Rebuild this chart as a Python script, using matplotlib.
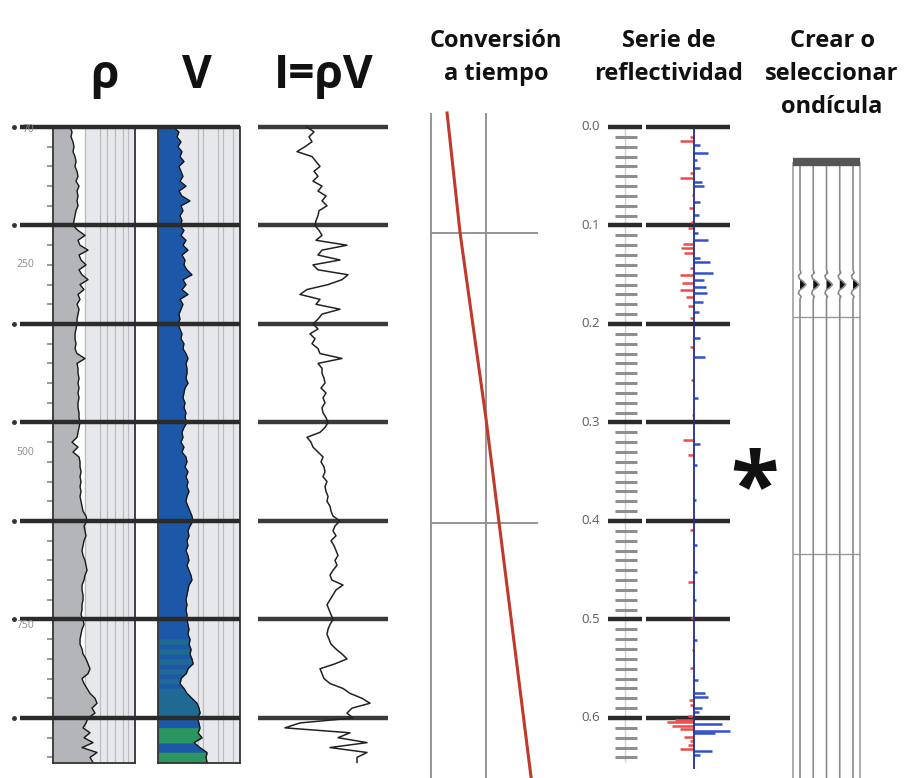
import numpy as np
import matplotlib
matplotlib.use("Agg")
import matplotlib.pyplot as plt

plt.rcParams['font.family'] = ['Open Sans', 'DejaVu Sans']

W, H = 914, 778
T0_PX, PX_PER_S = 127, 985.0   # vertical layout: time 0.0 s at pixel row 127

# ---------------- data ----------------
# log samples every 5 ms (two-way time, s)
t_log = np.arange(130) * 0.005

rho = [2.12, 2.14, 2.13, 2.15, 2.16, 2.15, 2.17, 2.18, 2.17, 2.19,
       2.20, 2.18, 2.21, 2.19, 2.20, 2.19, 2.20, 2.18, 2.17, 2.16,
       2.15, 2.20, 2.27, 2.20, 2.22, 2.30, 2.21, 2.23, 2.28, 2.21,
       2.24, 2.30, 2.22, 2.26, 2.20, 2.22, 2.19, 2.21, 2.20, 2.19,
       2.19, 2.18, 2.17, 2.17, 2.18, 2.17, 2.19, 2.27, 2.19, 2.20,
       2.20, 2.21, 2.20, 2.21, 2.20, 2.21, 2.20, 2.20, 2.21, 2.21,
       2.22, 2.21, 2.20, 2.19, 2.14, 2.20, 2.15, 2.21, 2.22, 2.22,
       2.23, 2.22, 2.23, 2.22, 2.23, 2.22, 2.23, 2.24, 2.25, 2.28,
       2.29, 2.26, 2.27, 2.28, 2.26, 2.25, 2.24, 2.25, 2.27, 2.28,
       2.29, 2.27, 2.26, 2.24, 2.24, 2.25, 2.25, 2.24, 2.24, 2.23,
       2.25, 2.26, 2.24, 2.23, 2.22, 2.22, 2.24, 2.25, 2.28, 2.30,
       2.32, 2.30, 2.24, 2.26, 2.29, 2.32, 2.37, 2.39, 2.34, 2.37,
       2.30, 2.28, 2.25, 2.32, 2.26, 2.35, 2.24, 2.39, 2.32, 2.35]

vel = [2250, 2550, 2450, 2650, 2500, 2700, 2600, 2800, 2550, 2650,
       2750, 2600, 2900, 2550, 2700, 3100, 2650, 2750, 2600, 2700,
       2600, 2800, 2650, 2900, 2750, 3000, 2700, 2850, 2800, 2950,
       3200, 2750, 2900, 2700, 3000, 2600, 2750, 2650, 2550, 2600,
       2500, 2600, 2700, 2650, 2800, 2750, 2900, 3000, 2900, 2950,
       2950, 2900, 3000, 2850, 2800, 2750, 2850, 2800, 2900, 2850,
       2950, 2800, 2700, 2750, 2650, 2800, 2700, 2900, 2950, 2850,
       3000, 2900, 3000, 2950, 3050, 2950, 2900, 3000, 3100, 3200,
       3250, 3100, 3000, 3050, 2950, 3000, 2900, 3000, 3050, 2950,
       3050, 3150, 3200, 3050, 3000, 2950, 2900, 2950, 2900, 2950,
       2950, 3000, 3050, 3000, 3100, 3050, 3150, 3100, 3200, 3250,
       3000, 2900, 2650, 2600, 2800, 2950, 3200, 3450, 3550, 3600,
       3450, 3550, 3600, 3500, 3700, 3300, 3600, 3950, 3900, 3950]

# b = blue, t = teal, g = green
facies = "b" * 104 + "tbtbtbtbtb" + "tttttt" + "bb" + "ggg" + "bb" + "ggg"

imp = [6900, 7600, 7100, 7400, 6700, 5900, 7400, 7800, 8200, 7600,
       8000, 7500, 8400, 8000, 8800, 8400, 8900, 8100, 8000, 7800,
       7700, 8100, 8400, 7800, 10900, 8400, 8000, 10200, 7500, 8000,
       11000, 10400, 9000, 6900, 6200, 8200, 7800, 10200, 8400, 8000,
       7500, 8000, 7200, 7700, 7400, 8000, 8200, 10400, 8000, 8400,
       8400, 8600, 8700, 8300, 8800, 8500, 8700, 8400, 8500, 8800,
       9000, 8700, 8200, 6900, 7300, 7500, 8000, 8500, 8300, 8600,
       8700, 8500, 8900, 8700, 8800, 9000, 8900, 9200, 9300, 9500,
       10200, 9700, 9500, 9800, 9300, 9600, 9800, 10000, 9700, 9900,
       9500, 9200, 9400, 10500, 9800, 9500, 9200, 8900, 9100, 9300,
       9500, 9200, 9000, 8900, 9100, 9300, 9800, 10400, 10900, 9700,
       8200, 8400, 8600, 9200, 10500, 11200, 12400, 13200, 11400, 10900,
       11500, 6200, 4700, 11200, 10000, 12900, 9200, 12900, 11900, 11900]

time_lines = [0.0, 0.1, 0.2, 0.3, 0.4, 0.5, 0.6]
depth_labels = ["70", "250", "500", "750"]
depth_label_t = [0.003, 0.140, 0.330, 0.506]

# time-depth relation
conv_time = [0.073, 0.132, 0.25, 0.455]
conv_depth = [0, 180, 460, 1000]
conv_grid_time = [0.0, 0.25]
conv_grid_depth = [180, 617]

# reflectivity series
refl_t = [0.010, 0.014, 0.018, 0.026, 0.034, 0.042, 0.047, 0.052, 0.056, 0.060,
          0.069, 0.076, 0.082, 0.089, 0.096, 0.103, 0.108, 0.115, 0.119, 0.123,
          0.128, 0.133, 0.137, 0.143, 0.148, 0.150, 0.155, 0.158, 0.162, 0.165,
          0.169, 0.173, 0.178, 0.182, 0.188, 0.194, 0.214, 0.223, 0.234, 0.257,
          0.275, 0.292, 0.318, 0.322, 0.333, 0.343, 0.379, 0.409, 0.424, 0.452,
          0.462, 0.480, 0.498, 0.521, 0.531, 0.549, 0.561, 0.575, 0.579, 0.582,
          0.587, 0.590, 0.594, 0.598, 0.602, 0.604, 0.606, 0.608, 0.611, 0.613,
          0.615, 0.619, 0.623, 0.627, 0.631, 0.634, 0.638]
refl_r = [-0.02, -0.07, 0.03, 0.07, 0.015, 0.03, -0.02, -0.07, 0.04, 0.05,
          -0.01, 0.03, -0.025, 0.025, -0.015, -0.03, 0.02, 0.07, -0.055, -0.065,
          -0.05, 0.03, 0.08, -0.02, 0.095, -0.07, 0.05, -0.06, 0.06, -0.07,
          0.065, -0.04, 0.045, -0.03, 0.025, -0.02, 0.03, -0.02, 0.055, -0.015,
          0.02, -0.01, -0.055, 0.03, -0.03, 0.015, 0.01, -0.02, 0.015, 0.015,
          -0.03, 0.01, -0.015, 0.015, -0.01, -0.02, 0.02, 0.055, 0.07, -0.025,
          -0.02, 0.04, 0.025, -0.03, -0.095, -0.135, 0.14, -0.11, -0.07, 0.18,
          0.105, -0.05, -0.02, -0.03, -0.07, 0.09, 0.03]

# wavelet
traces = [1, 2, 3, 4, 5]
wave_t0 = 0.160
wave_off = [-0.015, -0.012, -0.009, -0.006, -0.003, 0.0, 0.003, 0.006, 0.009, 0.012, 0.015]
wave_amp = [0.0, 0.08, -0.12, -0.05, 0.25, 0.45, 0.25, -0.05, -0.12, 0.08, 0.0]
wave_lines = [0.193, 0.433]

# ---------------- figure ----------------
fig = plt.figure(figsize=(W / 100, H / 100), dpi=100)


def panel(x0, x1, y0, y1):
    # axes placed by pixel box, y axis in seconds
    ax = fig.add_axes([x0 / W, 1 - y1 / H, (x1 - x0) / W, (y1 - y0) / H])
    ax.set_ylim((y1 - T0_PX) / PX_PER_S, (y0 - T0_PX) / PX_PER_S)
    return ax


def track_style(ax):
    for s in ["left", "right", "bottom"]:
        ax.spines[s].set_color("#333333")
        ax.spines[s].set_linewidth(1.3)
    ax.spines["top"].set_visible(False)
    ax.set_yticks(np.arange(0, 0.645, 0.02))
    ax.tick_params(axis="y", direction="out", length=4, width=1.2,
                   color="#888888", labelleft=False)
    ax.tick_params(axis="x", bottom=False, labelbottom=False)


# density track
ax_rho = panel(53, 135, 127, 763)
ax_rho.set_xlim(1.95, 2.77)
ax_rho.axvspan(2.27, 2.77, color="#e6e8eb", zorder=0)
for g in [2.27, 2.42, 2.49, 2.57, 2.65, 2.70]:
    ax_rho.axvline(g, color="#b9bcc0", lw=0.9, zorder=0.5)
ax_rho.fill_betweenx(t_log, 1.95, rho, color="#b3b5b8", lw=0, zorder=1)
ax_rho.plot(rho, t_log, color="#1a1a1a", lw=1.0, zorder=2)
track_style(ax_rho)

# velocity track
fac_colors = {"b": "#1c57a8", "t": "#1f6a92", "g": "#2b9660"}
ax_v = panel(158, 240, 127, 763)
ax_v.set_xlim(1500, 5600)
ax_v.axvspan(2600, 5600, color="#e6e8eb", zorder=0)
for g in [3500, 3750, 4500, 4750, 5250]:
    ax_v.axvline(g, color="#b9bcc0", lw=0.9, zorder=0.5)
ax_v.fill_betweenx(t_log, 1500, vel, color=fac_colors["b"], lw=0, zorder=1)
for i in range(len(t_log) - 1):
    if facies[i] == "b":
        continue
    c = fac_colors[facies[i]]
    ax_v.fill_betweenx(t_log[i:i + 2], 1500, vel[i:i + 2], color=c,
                       edgecolor=c, lw=0.4, zorder=1.1)
ax_v.plot(vel, t_log, color="#111111", lw=0.9, zorder=2)
track_style(ax_v)
ax_v.tick_params(axis="y", left=False)

# horizons, depth labels over both tracks
ax_f = panel(10, 242, 110, 770)
ax_f.set_xlim(0, 1)
ax_f.patch.set_alpha(0)
ax_f.axis("off")
ax_f.hlines(time_lines, 0.043, 0.991, color="#2b2b2b", lw=3.2)
ax_f.plot([0.017] * len(time_lines), time_lines, "o", color="#333333", ms=2.5)
for lab, t in zip(depth_labels, depth_label_t):
    ax_f.text(0.105, t, lab, ha="right", va="center", fontsize=7.5, color="#8a8a8a")

# impedance
ax_imp = panel(250, 395, 110, 770)
ax_imp.set_xlim(1200, 15700)
ax_imp.axis("off")
ax_imp.hlines(time_lines, 2000, 15000, color="#3a3a3a", lw=3.2)
ax_imp.plot(imp, t_log, color="#222222", lw=1.1)

# time-depth conversion
ax_c = fig.add_axes([420 / W, 0, 125 / W, 678 / H])
ax_c.set_xlim(-0.05, 0.518)
ax_c.set_ylim(1000, -19.5)
ax_c.axis("off")
ax_c.vlines(conv_grid_time, 0, 1000, color="#8c8c8c", lw=1.3)
ax_c.hlines(conv_grid_depth, 0.0, 0.486, color="#8c8c8c", lw=1.3)
ax_c.plot(conv_time, conv_depth, color="#c0392b", lw=2.2)

# reflectivity
ax_r = panel(560, 740, 110, 778)
ax_r.set_xlim(-0.67, 0.23)
ax_r.axis("off")
ytr = ax_r.get_yaxis_transform()
minor_t = [t for t in np.arange(0, 0.645, 0.01) if round(t * 100) % 10 != 0]
ax_r.vlines(0.361, 0, 0.645, transform=ytr, color="#d0d0d0", lw=1.0)
ax_r.hlines(minor_t, 0.306, 0.428, transform=ytr, color="#8f8f8f", lw=2.2)
ax_r.hlines(time_lines, 0.267, 0.456, transform=ytr, color="#2b2b2b", lw=3.2)
ax_r.hlines(time_lines, 0.478, 0.944, transform=ytr, color="#2b2b2b", lw=3.2)
for t in time_lines:
    ax_r.text(0.222, t, f"{t:.1f}", transform=ytr, ha="right", va="center",
              fontsize=9.5, color="#5e5e5e")
ax_r.vlines(0, 0, 0.652, color="#1f2f8f", lw=1.3, zorder=3)
ax_r.hlines(refl_t, 0, refl_r, colors=["#ee4a4a" if r < 0 else "#3050d0" for r in refl_r],
            lw=1.8, zorder=2)

# wavelet
ax_w = panel(785, 870, 130, 778)
ax_w.set_xlim(-0.132, 6.283)
ax_w.axis("off")
ax_w.vlines([0.47, 5.53], 0.036, 0.661, color="#a0a0a0", lw=1.2)
ax_w.hlines(wave_lines, 0.47, 5.53, color="#999999", lw=1.0)
tt = [0.036] + [wave_t0 + o for o in wave_off] + [0.661]
aa = np.array([0.0] + wave_amp + [0.0])
for x in traces:
    ax_w.plot(x + aa, tt, color="#8a8a8a", lw=1.2)
    ax_w.fill_betweenx(tt, x, x + aa, where=aa > 0, interpolate=True, color="#111111", lw=0)
ax_w.hlines(0.036, 0.47, 5.53, color="#555555", lw=6)

# titles
big = dict(fontsize=33, fontweight="bold", ha="center", va="baseline", color="#111111")
fig.text(104 / W, 1 - 88 / H, "ρ", **big)
fig.text(197 / W, 1 - 88 / H, "V", **big)
fig.text(324 / W, 1 - 88 / H, "I=ρV", **big)

small = dict(fontsize=17, fontweight="bold", ha="center", va="baseline", color="#111111")
for i, line in enumerate(["Conversión", "a tiempo"]):
    fig.text(496 / W, 1 - (47 + 33 * i) / H, line, **small)
for i, line in enumerate(["Serie de", "reflectividad"]):
    fig.text(669 / W, 1 - (47 + 33 * i) / H, line, **small)
for i, line in enumerate(["Crear o", "seleccionar", "ondícula"]):
    fig.text(832 / W, 1 - (47 + 33 * i) / H, line, **small)

fig.text(754 / W, 1 - 492 / H, "*", fontsize=64, fontweight="bold",
         ha="center", va="center", color="#111111")

fig.savefig("out.png", dpi=100)
